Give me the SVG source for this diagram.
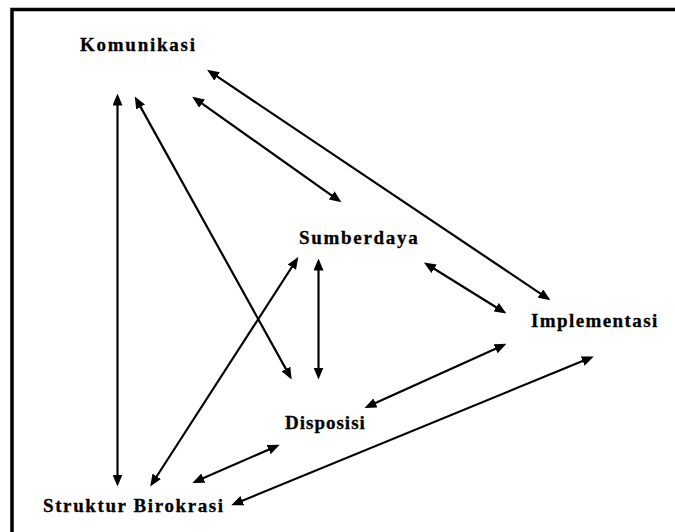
<svg xmlns="http://www.w3.org/2000/svg" width="675" height="532" viewBox="0 0 675 532">
<style>
.lbl{font-family:"Liberation Serif","Times New Roman",serif;font-weight:bold;font-size:19px;fill:#000;stroke:#000;stroke-width:0.3}
.con line{stroke:#000;stroke-width:2.2;fill:none;marker-start:url(#ah);marker-end:url(#ah)}
</style>
<defs>
<marker id="ah" markerUnits="userSpaceOnUse" markerWidth="12" markerHeight="10" refX="8.5" refY="5" orient="auto-start-reverse" viewBox="0 0 12 10">
<path d="M0,0 L12,5 L0,10 z" fill="#000"/>
</marker>
</defs>
<rect width="675" height="532" fill="#fff"/>
<path d="M12,532 V9.5 H675" fill="none" stroke="#000" stroke-width="3.5"/>
<g id="komunikasi"><text class="lbl" x="80" y="51" letter-spacing="1.75">Komunikasi</text></g>
<g id="sumberdaya"><text class="lbl" x="299" y="243.5" letter-spacing="1.7">Sumberdaya</text></g>
<g id="implementasi"><text class="lbl" x="531" y="327" letter-spacing="1.4">Implementasi</text></g>
<g id="disposisi"><text class="lbl" x="285" y="428.5" letter-spacing="1">Disposisi</text></g>
<g id="struktur-birokrasi"><text class="lbl" x="43" y="511.5" letter-spacing="1.6">Struktur Birokrasi</text></g>
<g id="connectors" class="con">
<line x1="117.5" y1="97" x2="117.5" y2="483"/>
<line x1="136.5" y1="99.6" x2="290" y2="376.4"/>
<line x1="195.1" y1="98.7" x2="338.6" y2="200.3"/>
<line x1="210" y1="71.7" x2="547.5" y2="298.3"/>
<line x1="296.4" y1="260" x2="152.1" y2="483.5"/>
<line x1="318.5" y1="262" x2="318.5" y2="376"/>
<line x1="426.9" y1="264.3" x2="503.4" y2="311.7"/>
<line x1="503.3" y1="345.2" x2="367.7" y2="406.5"/>
<line x1="590.5" y1="357.8" x2="234.5" y2="503.9"/>
<line x1="276.5" y1="446.2" x2="195.5" y2="481.5"/>
</g>
</svg>
